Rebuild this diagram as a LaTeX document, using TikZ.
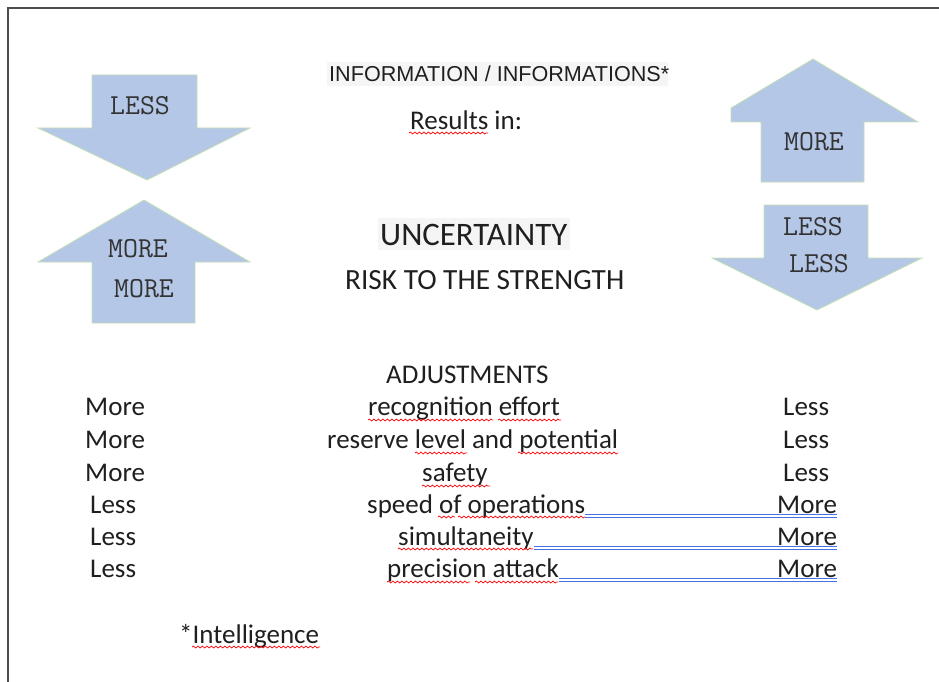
\documentclass[tikz,border=0pt]{standalone}
\usepackage{fontspec}
\usepackage{tikz}
\usepackage{xcolor}
\setmainfont{Carlito}
\newfontfamily\arialf{Liberation Sans}
\usetikzlibrary{decorations.pathmorphing}
\definecolor{fleche}{RGB}{180,199,231}
\definecolor{bordfleche}{RGB}{197,224,180}
\definecolor{bleu}{RGB}{68,114,228}
\tikzset{
Fleche/.style={
 fill=fleche,
 draw=bordfleche,
 line width=0.8pt
 },
Etiq/.style={
 anchor=base,
 inner sep=0pt,
 font=\ttfamily\fontsize{29}{30}\selectfont,
 text=black!80
 },
Texte/.style={
 anchor=base west,
 inner sep=0pt,
 font=\fontsize{27}{30}\selectfont,
 text=black!88
 },
Faute/.style={
 draw=red,
 line width=0.7pt,
 decorate,
 decoration={snake,segment length=4.5pt,amplitude=1pt}
 },
Double/.style={
 draw=bleu,
 double=white,
 double distance=1.6pt,
 line width=0.9pt
 },
Surligne/.style={
 fill=black!4
 }
}
\begin{document}
\begin{tikzpicture}[x=1pt,y=-1pt]
\useasboundingbox (0,0) rectangle (939,682);
\draw[line width=2.4pt,black!70] (8,682) -- (8,8) -- (939,8);
% fleches
\draw[Fleche] (92,75) -- (197,75) -- (197,128) -- (250,128) -- (147,180) -- (38,128) -- (92,128) -- cycle;
\draw[Fleche] (92,323) -- (195,323) -- (195,262) -- (250,262) -- (144,200) -- (38,262) -- (92,262) -- cycle;
\draw[Fleche] (761,182) -- (864,182) -- (864,122) -- (918,122) -- (813,59) -- (731,108) -- (731,122) -- (761,122) -- cycle;
\draw[Fleche] (764,205) -- (868,205) -- (868,258) -- (922,258) -- (817,310) -- (712,258) -- (764,258) -- cycle;
\node[Etiq] (l1) at (140,115) {LESS};
\node[Etiq] (m1) at (138,257) {MORE};
\node[Etiq] (m2) at (144,297) {MORE};
\node[Etiq] (m3) at (814,150) {MORE};
\node[Etiq] (l2) at (813,235) {LESS};
\node[Etiq] (l3) at (819,272) {LESS};
% titres
\fill[Surligne] (327,62) rectangle (668,86);
\fill[Surligne] (378,218) rectangle (570,250);
\node[Texte,font=\arialf\fontsize{21.6}{24}\selectfont] (info) at (329,82) {INFORMATION / INFORMATIONS*};
\node[Texte] (res) at (410,130) {Results in:};
\node[Texte,font=\fontsize{32.8}{36}\selectfont] (unc) at (380,245) {UNCERTAINTY};
\node[Texte,font=\fontsize{29.3}{32}\selectfont] (risk) at (345,289) {RISK TO THE STRENGTH};
% tableau
\node[Texte] (adj) at (386,383) {ADJUSTMENTS};
\node[Texte] (g1) at (85,415) {More};
\node[Texte] (g2) at (85,448) {More};
\node[Texte] (g3) at (85,481) {More};
\node[Texte] (g4) at (90,513) {Less};
\node[Texte] (g5) at (90,545) {Less};
\node[Texte] (g6) at (90,577) {Less};
\node[Texte] (c1) at (368,415) {recognition effort};
\node[Texte] (c2) at (327,448) {reserve level and potential};
\node[Texte] (c3) at (422,481) {safety};
\node[Texte] (c4) at (367,513) {speed of operations};
\node[Texte] (c5) at (398,545) {simultaneity};
\node[Texte] (c6) at (387,577) {precision attack};
\node[Texte] (d1) at (783,415) {Less};
\node[Texte] (d2) at (783,448) {Less};
\node[Texte] (d3) at (783,481) {Less};
\node[Texte] (d4) at (777,513) {More};
\node[Texte] (d5) at (777,545) {More};
\node[Texte] (d6) at (777,577) {More};
\node[Texte] (intel) at (179,643) {*Intelligence};
% soulignements
\draw[Faute] (409,133) -- (488,133);
\draw[Faute] (368,420) -- (493,420);
\draw[Faute] (498,420) -- (561,420);
\draw[Faute] (415,453) -- (467,453);
\draw[Faute] (518,453) -- (618,453);
\draw[Faute] (422,486) -- (490,486);
\draw[Faute] (438,517) -- (455,517);
\draw[Faute] (458,517) -- (585,517);
\draw[Faute] (398,549) -- (533,549);
\draw[Faute] (387,582) -- (470,582);
\draw[Faute] (475,582) -- (558,582);
\draw[Faute] (192,647) -- (320,647);
\draw[Double] ([yshift=-3pt]c4.base east) -- ([yshift=-3pt]d4.base east);
\draw[Double] ([yshift=-3pt]c5.base east) -- ([yshift=-3pt]d5.base east);
\draw[Double] ([yshift=-3pt]c6.base east) -- ([yshift=-3pt]d6.base east);
\end{tikzpicture}
\end{document}
